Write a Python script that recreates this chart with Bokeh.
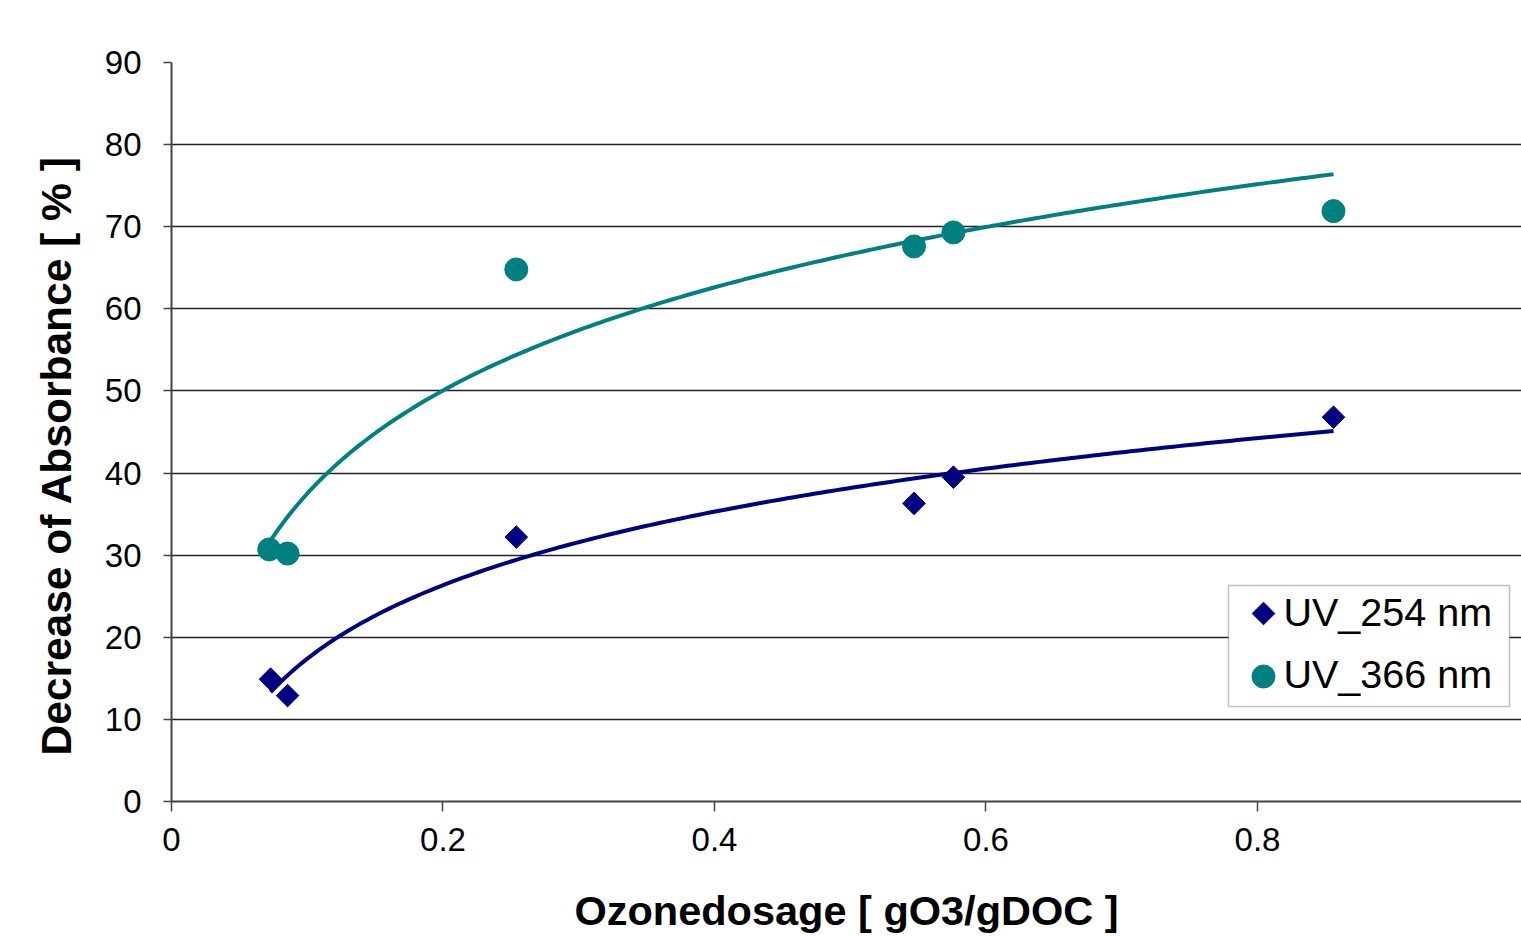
import numpy as np
from bokeh.plotting import figure
from bokeh.models import FixedTicker, Range1d, BoxAnnotation, Label
from bokeh.embed import file_html
from bokeh.resources import INLINE

# ---- data ----
dose_254 = [0.073, 0.0855, 0.254, 0.547, 0.576, 0.856]
uv_254 = [14.9, 12.9, 32.2, 36.3, 39.5, 46.8]
dose_366 = [0.072, 0.0855, 0.254, 0.547, 0.576, 0.856]
uv_366 = [30.7, 30.2, 64.8, 67.6, 69.3, 71.9]
x_ticks = [0, 0.2, 0.4, 0.6, 0.8]
x_tick_labels = ["0", "0.2", "0.4", "0.6", "0.8"]
y_ticks = [0, 10, 20, 30, 40, 50, 60, 70, 80, 90]
series_names = ["UV_254 nm", "UV_366 nm"]

NAVY = "#000080"
TEAL = "#008080"
FONT = "Liberation Sans"

# ---- layout ----
W, H = 1521, 936
BL, BT, BB = 171, 62, 135
XMAX, YMAX = 0.9945, 90
FW, FH = W - BL, H - BT - BB

p = figure(width=W, height=H, output_backend="svg", toolbar_location=None,
           x_range=Range1d(0, XMAX), y_range=Range1d(0, YMAX),
           min_border_left=BL, min_border_right=0, min_border_top=BT,
           min_border_bottom=BB)
p.outline_line_color = None
p.background_fill_color = "white"

# log trend lines (Excel-style logarithmic fit of each series)
def log_trend(xs, ys):
    a, b = np.polyfit(np.log(xs), ys, 1)
    xx = np.linspace(min(xs), max(xs), 200)
    return xx, a * np.log(xx) + b

tx, ty = log_trend(dose_366, uv_366)
p.line(tx, ty, line_color=TEAL, line_width=4)
tx, ty = log_trend(dose_254, uv_254)
p.line(tx, ty, line_color=NAVY, line_width=4)

DIAMOND = dict(marker="square", size=16, angle=np.pi / 4, fill_color=NAVY, line_color=NAVY)
CIRCLE = dict(marker="circle", size=23, fill_color=TEAL, line_color=TEAL)
p.scatter(dose_254, uv_254, **DIAMOND)
p.scatter(dose_366, uv_366, **CIRCLE)

# axes
p.xaxis.ticker = FixedTicker(ticks=x_ticks)
p.xaxis.major_label_overrides = {t: l for t, l in zip(x_ticks, x_tick_labels)}
p.yaxis.ticker = FixedTicker(ticks=y_ticks)
for ax in (p.xaxis, p.yaxis):
    ax.axis_line_color = "#444444"
    ax.axis_line_width = 2
    ax.major_tick_line_color = "#444444"
    ax.major_tick_line_width = 1.5
    ax.major_tick_in = 0
    ax.minor_tick_line_color = None
    ax.major_label_text_font = FONT
    ax.major_label_text_font_size = "33px"
    ax.major_label_text_color = "black"
    ax.axis_label_text_font = FONT
    ax.axis_label_text_font_style = "bold"
    ax.axis_label_text_color = "black"

p.xaxis.major_tick_out = 10
p.xaxis.major_label_standoff = 16
p.xaxis.axis_label = "Ozonedosage [ gO3/gDOC ]"
p.xaxis.axis_label_text_font_size = "41.5px"
p.xaxis.axis_label_standoff = 33
p.yaxis.major_tick_out = 8
p.yaxis.major_label_standoff = 22
p.yaxis.axis_label = "Decrease of Absorbance [ % ]" + "\u00a0" * 4
p.yaxis.axis_label_text_font_size = "42.5px"
p.yaxis.axis_label_standoff = 22

p.xgrid.grid_line_color = None
p.ygrid.grid_line_color = "#222222"
p.ygrid.grid_line_width = 1.3

# ---- legend (drawn by hand, positions in pixels from the plot area's lower-left) ----
def sx(px):
    return px * XMAX / FW

def sy(px):
    return px * YMAX / FH

LEG_L, LEG_R, LEG_B, LEG_T = 1057, 1338, 95, 216
SYM_X, TXT_X = 1092, 1112
ROW_MID = [188, 125]
ROW_BASE = [190, 128]

p.add_layout(BoxAnnotation(left=sx(LEG_L), right=sx(LEG_R), bottom=sy(LEG_B), top=sy(LEG_T),
                           fill_color="white", fill_alpha=1, line_color="#333333",
                           line_width=1.5, level="underlay"))
p.scatter([sx(SYM_X)], [sy(ROW_MID[0])], **DIAMOND)
p.scatter([sx(SYM_X)], [sy(ROW_MID[1])], **CIRCLE)
for name, base in zip(series_names, ROW_BASE):
    p.add_layout(Label(x=sx(TXT_X), y=sy(base), text=name, text_font=FONT,
                       text_font_size="39.5px", text_color="black",
                       text_align="left", text_baseline="alphabetic"))

open("out.html", "w").write(file_html(p, INLINE))
